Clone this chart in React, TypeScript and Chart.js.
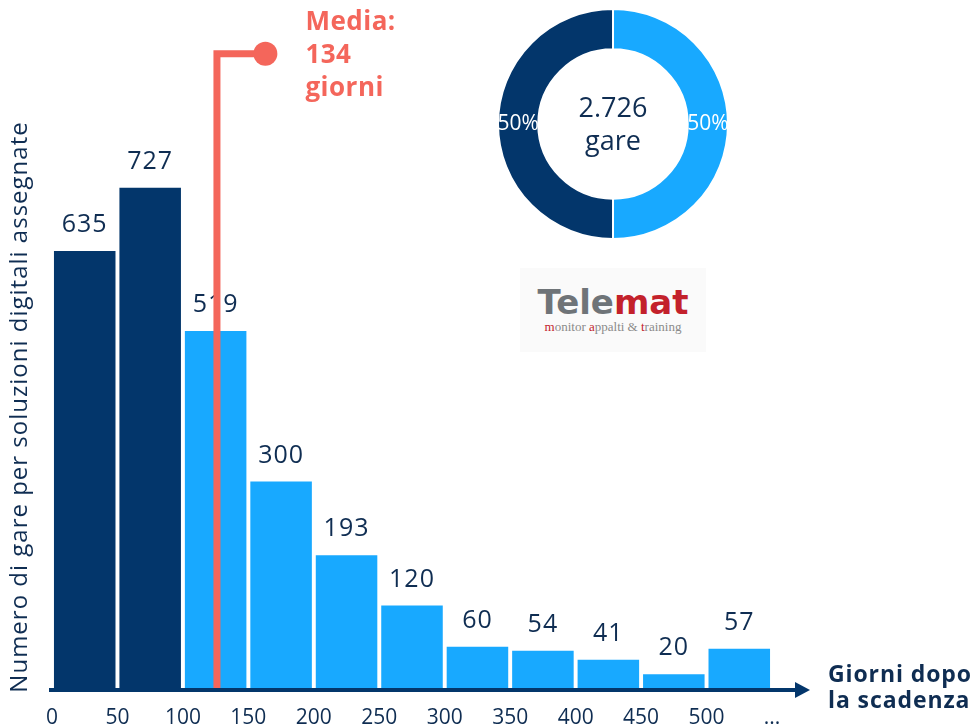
import React, { useEffect, useRef } from 'react';
import { Chart, registerables } from 'chart.js';

Chart.register(...registerables);

// ---------- data ----------
const binLabels = ['0-50', '50-100', '100-150', '150-200', '200-250', '250-300', '300-350', '350-400', '400-450', '450-500', '500+'];
const garePerBin = [635, 727, 519, 300, 193, 120, 60, 54, 41, 20, 57];
const firstHalfBins = 2; // bins that make up the first 50% of the tenders
const dayTicks = [0, 50, 100, 150, 200, 250, 300, 350, 400, 450, 500, 550];
const dayTickLabels = ['0', '50', '100', '150', '200', '250', '300', '350', '400', '450', '500', '...'];
const mediaTextLines = ['Media:', '134', 'giorni'];
const mediaMarkerDay = 126;
const mediaMarkerTopValue = 922;
const mediaMarkerEndDay = 163;
const donutShares = [50, 50];
const donutLabels = ['50%', '50%'];
const totalLines = ['2.726', 'gare'];
const yTitle = 'Numero di gare per soluzioni digitali assegnate';
const xTitleLines = ['Giorni dopo', 'la scadenza'];

// ---------- style ----------
const FONT = '"Open Sans", "DejaVu Sans", sans-serif';
const NARROW = '"Liberation Sans Narrow", "Open Sans", sans-serif';
const NAVY = '#03366b';
const BLUE = '#18a9ff';
const RED = '#f4665b';
const TEXT = '#0f2d52';

export default function App() {
  const barRef = useRef<HTMLCanvasElement | null>(null);
  const donutRef = useRef<HTMLCanvasElement | null>(null);

  useEffect(() => {
    if (!barRef.current || !donutRef.current) return;

    const overlay = {
      id: 'overlay',
      afterDatasetsDraw(chart: any) {
        const ctx = chart.ctx as any;
        const area = chart.chartArea;
        const xs = chart.scales.x2;
        const ys = chart.scales.y;
        const meta = chart.getDatasetMeta(0);
        ctx.save();
        // value labels
        ctx.font = `25px ${FONT}`;
        ctx.letterSpacing = '1px';
        ctx.fillStyle = TEXT;
        ctx.textAlign = 'center';
        ctx.textBaseline = 'middle';
        meta.data.forEach((bar: any, i: number) => {
          ctx.fillText(String(garePerBin[i]), bar.x, bar.y - 26);
        });
        ctx.letterSpacing = '0px';
        // media marker
        const mx = xs.getPixelForValue(mediaMarkerDay);
        const ty = ys.getPixelForValue(mediaMarkerTopValue);
        const ex = xs.getPixelForValue(mediaMarkerEndDay);
        ctx.strokeStyle = RED;
        ctx.lineWidth = 7;
        ctx.lineJoin = 'miter';
        ctx.lineCap = 'butt';
        ctx.beginPath();
        ctx.moveTo(mx, area.bottom);
        ctx.lineTo(mx, ty);
        ctx.lineTo(ex, ty);
        ctx.stroke();
        ctx.fillStyle = RED;
        ctx.beginPath();
        ctx.arc(ex, ty, 12, 0, Math.PI * 2);
        ctx.fill();
        ctx.font = `bold 26px ${FONT}`;
        ctx.letterSpacing = '0.5px';
        ctx.textAlign = 'left';
        mediaTextLines.forEach((t, i) => {
          ctx.fillText(t, ex + 40, ty - 31 + i * 33);
        });
        // x axis arrow
        const ay = area.bottom + 2;
        ctx.strokeStyle = NAVY;
        ctx.lineWidth = 4;
        ctx.beginPath();
        ctx.moveTo(area.left - 3, ay);
        ctx.lineTo(area.right + 28, ay);
        ctx.stroke();
        ctx.fillStyle = NAVY;
        ctx.beginPath();
        ctx.moveTo(area.right + 23, ay - 8);
        ctx.lineTo(area.right + 38, ay);
        ctx.lineTo(area.right + 23, ay + 8);
        ctx.closePath();
        ctx.fill();
        // x title
        ctx.fillStyle = TEXT;
        ctx.font = `bold 23px ${FONT}`;
        ctx.letterSpacing = '0.9px';
        ctx.textAlign = 'left';
        xTitleLines.forEach((t, i) => {
          ctx.fillText(t, area.right + 56, area.bottom - 13 + i * 26);
        });
        // y title
        ctx.translate(20, 407);
        ctx.rotate(-Math.PI / 2);
        ctx.textAlign = 'center';
        ctx.font = `24px ${FONT}`;
        ctx.letterSpacing = '1px';
        ctx.fillText(yTitle, 0, 0);
        ctx.restore();
      },
    };

    const bar = new Chart(barRef.current, {
      type: 'bar',
      data: {
        labels: binLabels,
        datasets: [
          {
            data: garePerBin,
            backgroundColor: garePerBin.map((_, i) => (i < firstHalfBins ? NAVY : BLUE)),
            borderWidth: 0,
            barPercentage: 0.94,
            categoryPercentage: 1,
          },
        ],
      },
      options: {
        responsive: false,
        animation: false,
        devicePixelRatio: 1,
        layout: { padding: { left: 52, right: 207, top: 0, bottom: 0 } },
        plugins: { legend: { display: false }, tooltip: { enabled: false } },
        scales: {
          x: { type: 'category', display: false },
          x2: {
            type: 'linear',
            position: 'bottom',
            offset: false,
            min: 0,
            max: 550,
            grid: { display: false, offset: false },
            border: { display: false },
            afterBuildTicks: (axis: any) => {
              axis.ticks = dayTicks.map((v) => ({ value: v }));
            },
            afterFit: (axis: any) => {
              axis.height = 37;
            },
            ticks: {
              autoSkip: false,
              maxRotation: 0,
              padding: 9,
              color: TEXT,
              font: { family: NARROW, size: 21 },
              callback: (v: any) => {
                const i = dayTicks.indexOf(Number(v));
                return i >= 0 ? dayTickLabels[i] : '';
              },
            },
          },
          y: { display: false, min: 0, max: 1000 },
        },
      },
      plugins: [overlay],
    } as any);

    const donutText = {
      id: 'donutText',
      afterDatasetsDraw(chart: any) {
        const ctx = chart.ctx as any;
        const meta = chart.getDatasetMeta(0);
        ctx.save();
        ctx.textAlign = 'center';
        ctx.textBaseline = 'middle';
        ctx.fillStyle = '#ffffff';
        ctx.font = `21px ${FONT}`;
        meta.data.forEach((arc: any, i: number) => {
          const p = arc.tooltipPosition();
          ctx.fillText(donutLabels[i], p.x, p.y);
        });
        const cx = (chart.chartArea.left + chart.chartArea.right) / 2;
        const cy = (chart.chartArea.top + chart.chartArea.bottom) / 2;
        ctx.fillStyle = TEXT;
        ctx.font = `27px ${FONT}`;
        ctx.fillText(totalLines[0], cx, cy - 15);
        ctx.fillText(totalLines[1], cx, cy + 18);
        ctx.restore();
      },
    };

    const donut = new Chart(donutRef.current, {
      type: 'doughnut',
      data: {
        labels: ['seconda metà', 'prima metà'],
        datasets: [
          {
            data: donutShares,
            backgroundColor: [BLUE, NAVY],
            borderColor: '#ffffff',
            borderWidth: 2,
          },
        ],
      },
      options: {
        responsive: false,
        animation: false,
        devicePixelRatio: 1,
        cutout: '65%',
        layout: { padding: 0 },
        plugins: { legend: { display: false }, tooltip: { enabled: false } },
      },
      plugins: [donutText],
    } as any);

    return () => {
      bar.destroy();
      donut.destroy();
    };
  }, []);

  return (
    <div style={{ position: 'fixed', left: 0, top: 0, width: 979, height: 725, background: '#fff', overflow: 'hidden' }}>
      <canvas ref={barRef} width={979} height={725} style={{ position: 'absolute', left: 0, top: 0 }} />
      <canvas ref={donutRef} width={232} height={232} style={{ position: 'absolute', left: 497, top: 8 }} />
      <div
        style={{
          position: 'absolute',
          left: 520,
          top: 268,
          width: 186,
          height: 84,
          background: '#fafafa',
          textAlign: 'center',
        }}
      >
        <div style={{ marginTop: 16, fontFamily: '"DejaVu Sans", sans-serif', fontWeight: 'bold', fontSize: 34, lineHeight: '36px', letterSpacing: 0 }}>
          <span style={{ color: '#6f7478' }}>Tele</span>
          <span style={{ color: '#c3212b' }}>mat</span>
        </div>
        <div style={{ fontFamily: '"Liberation Serif", serif', fontSize: 13, color: '#8a8a8a', lineHeight: '14px' }}>
          <span style={{ color: '#c3212b' }}>m</span>onitor <span style={{ color: '#c3212b' }}>a</span>ppalti &amp; <span style={{ color: '#c3212b' }}>t</span>raining
        </div>
      </div>
    </div>
  );
}
